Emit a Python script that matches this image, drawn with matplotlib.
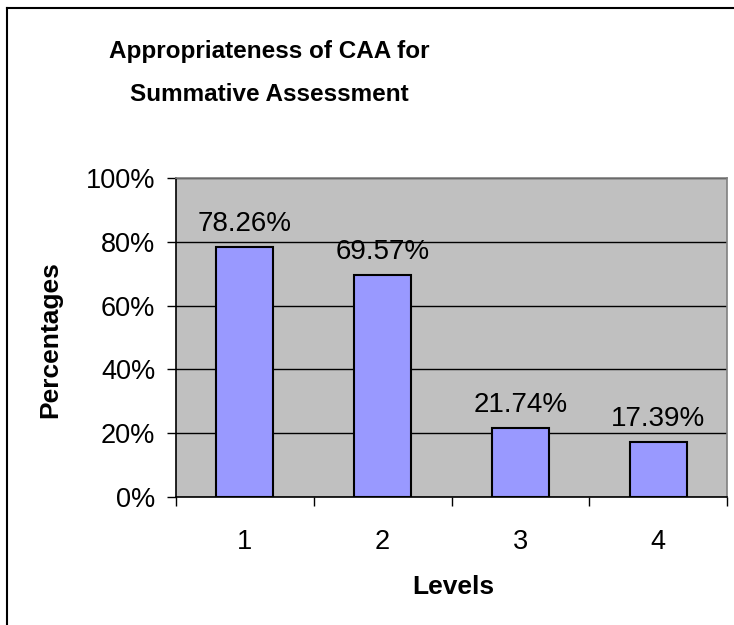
import matplotlib
matplotlib.use('Agg')
import matplotlib.pyplot as plt
from matplotlib.lines import Line2D

levels = ['1', '2', '3', '4']
percentages = [78.26, 69.57, 21.74, 17.39]
yticks = [0, 20, 40, 60, 80, 100]
ytick_labels = ['0%', '20%', '40%', '60%', '80%', '100%']
title = 'Appropriateness of CAA for\nSummative Assessment'
xlabel = 'Levels'
ylabel = 'Percentages'

plt.rcParams['font.family'] = ['Liberation Sans', 'DejaVu Sans']

W, H = 734, 625
fig = plt.figure(figsize=(W / 100, H / 100), dpi=100)
fig.patch.set_facecolor('white')

left, right, top, bottom = 176, 727, 178, 497
ax = fig.add_axes([left / W, 1 - bottom / H, (right - left) / W, (bottom - top) / H])
ax.set_facecolor('#C0C0C0')

x = list(range(len(levels)))
ax.bar(x, percentages, width=0.415, color='#9999FF', edgecolor='black',
       linewidth=1.5, zorder=3)
ax.set_xlim(-0.5, len(levels) - 0.5)
ax.set_ylim(0, 100)

ax.set_yticks(yticks)
ax.set_yticklabels(ytick_labels, fontsize=19.5)
ax.yaxis.grid(True, color='black', linewidth=1)
ax.set_axisbelow(True)
ax.tick_params(axis='y', length=6.5, width=1, direction='out', pad=8.5)

ax.set_xticks(x)
ax.set_xticklabels(levels, fontsize=19.5)
ax.tick_params(axis='x', which='major', length=0, pad=23)
ax.set_xticks([i - 0.5 for i in range(len(levels) + 1)], minor=True)
ax.tick_params(axis='x', which='minor', length=6.5, width=1, direction='out')

for side in ['top', 'right']:
    ax.spines[side].set_color('#808080')
    ax.spines[side].set_linewidth(1.2)
for side in ['left', 'bottom']:
    ax.spines[side].set_color('black')
    ax.spines[side].set_linewidth(1.2)

for i, v in zip(x, percentages):
    ax.annotate(f'{v:.2f}%', (i, v), xytext=(0, 16.5), textcoords='offset points',
                ha='center', va='center', fontsize=20, zorder=4)

fig.text(269 / W, 1 - 73 / H, title, ha='center', va='center', fontsize=17.5,
         fontweight='bold', linespacing=2.1)
fig.text(50 / W, 1 - 340 / H, ylabel, ha='center', va='center', rotation=90,
         fontsize=19, fontweight='bold')
fig.text(453 / W, 1 - 587 / H, xlabel, ha='center', va='center',
         fontsize=19, fontweight='bold')

# outer chart border (partially cropped in the reference)
fig.add_artist(Line2D([7 / W, 1.0], [1 - 8 / H, 1 - 8 / H], color='black', linewidth=1.5))
fig.add_artist(Line2D([7 / W, 7 / W], [1 - 8 / H, 0.0], color='black', linewidth=1.5))

fig.savefig('out.png', dpi=100)
